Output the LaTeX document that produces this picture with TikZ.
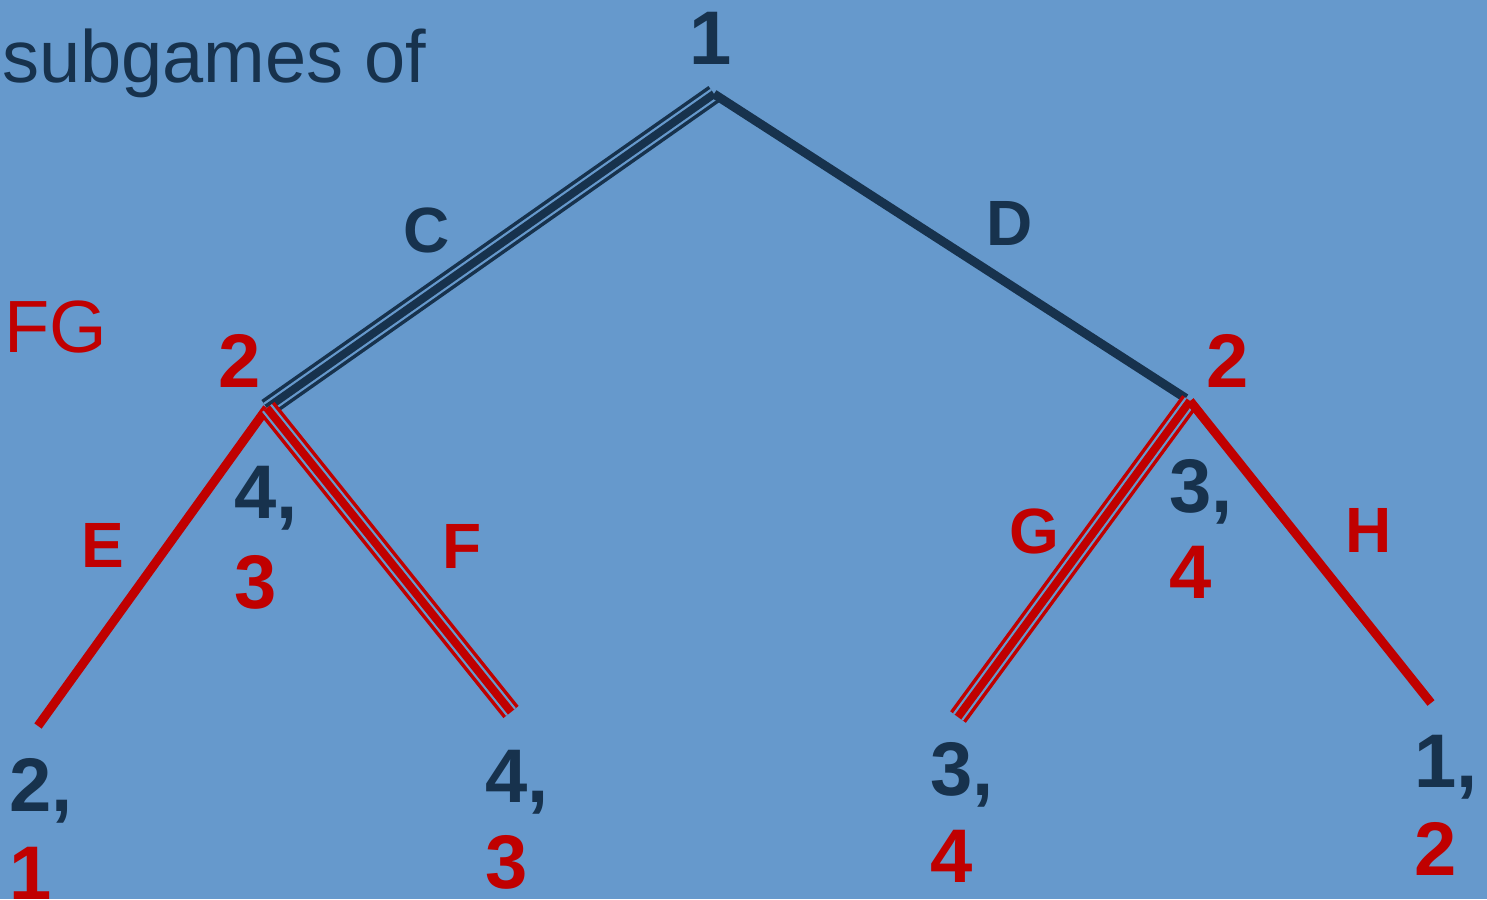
\documentclass[tikz,border=0pt]{standalone}
\usepackage{fontspec}
\setmainfont{Liberation Sans}
\definecolor{bgblue}{HTML}{6699CC}
\definecolor{navy}{HTML}{17324D}
\definecolor{tred}{HTML}{C00000}
\begin{document}
\begin{tikzpicture}[x=1pt,y=-1pt,
  sidelines/.style={draw=#1, line width=3.5pt, double=bgblue, double distance=12.5pt},
  corelines/.style={draw=#1, line width=8pt},
  fulledge/.style={draw=#1, line width=9pt},
  bignum/.style={font=\fontsize{76}{80}\selectfont\bfseries, inner sep=0pt},
  actlab/.style={font=\fontsize{64}{70}\selectfont\bfseries, inner sep=0pt},
  plaintext/.style={font=\fontsize{74}{80}\selectfont, inner sep=0pt}]
\fill[bgblue] (0,0) rectangle (1487,899);
\useasboundingbox (0,0) rectangle (1487,899);

% tree points
\coordinate (root) at (714,94);
\coordinate (nL) at (267,408);
\coordinate (nR) at (1190,401);
\coordinate (lE) at (38,726);
\coordinate (lF) at (511,712);
\coordinate (lG) at (958,717);
\coordinate (lH) at (1431,703);

% edges
\draw[sidelines=navy] (root) -- (nL);
\draw[corelines=navy] (root) -- (nL);
\draw[fulledge=navy, shorten >=5pt] (root) -- (nR);
\draw[fulledge=tred] (nL) -- (lE);
\draw[sidelines=tred] (nL) -- (lF);
\draw[corelines=tred] (nL) -- (lF);
\draw[sidelines=tred] (nR) -- (lG);
\draw[corelines=tred] (nR) -- (lG);
\draw[fulledge=tred] (nR) -- (lH);

% title text
\node[plaintext, text=navy, anchor=base west] (title) at (2,82) {subgames of};
\node[plaintext, text=tred, anchor=base west] (fg) at (4,352) {FG};

% player labels
\node[bignum, text=navy, anchor=base] (p1) at (711,64) {1};
\node[bignum, text=tred, anchor=base] (p2L) at (240,387) {2};
\node[bignum, text=tred, anchor=base] (p2R) at (1228,387) {2};

% action labels
\node[actlab, text=navy, anchor=base] (aC) at (427,252) {C};
\node[actlab, text=navy, anchor=base] (aD) at (1010,245) {D};
\node[actlab, text=tred, anchor=base] (aE) at (103,567) {E};
\node[actlab, text=tred, anchor=base] (aF) at (462,568) {F};
\node[actlab, text=tred, anchor=base] (aG) at (1034,553) {G};
\node[actlab, text=tred, anchor=base] (aH) at (1369,552) {H};

% subgame values
\node[bignum, text=navy, anchor=base west] (vL1) at (234,518) {4,};
\node[bignum, text=tred, anchor=base west] (vL2) at (234,608) {3};
\node[bignum, text=navy, anchor=base west] (vR1) at (1169,512) {3,};
\node[bignum, text=tred, anchor=base west] (vR2) at (1169,598) {4};

% payoffs
\node[bignum, text=navy, anchor=base west] (yE1) at (9,811) {2,};
\node[bignum, text=tred, anchor=base west] (yE2) at (9,899) {1};
\node[bignum, text=navy, anchor=base west] (yF1) at (485,802) {4,};
\node[bignum, text=tred, anchor=base west] (yF2) at (485,888) {3};
\node[bignum, text=navy, anchor=base west] (yG1) at (930,795) {3,};
\node[bignum, text=tred, anchor=base west] (yG2) at (930,882) {4};
\node[bignum, text=navy, anchor=base west] (yH1) at (1414,787) {1,};
\node[bignum, text=tred, anchor=base west] (yH2) at (1414,875) {2};
\end{tikzpicture}
\end{document}
